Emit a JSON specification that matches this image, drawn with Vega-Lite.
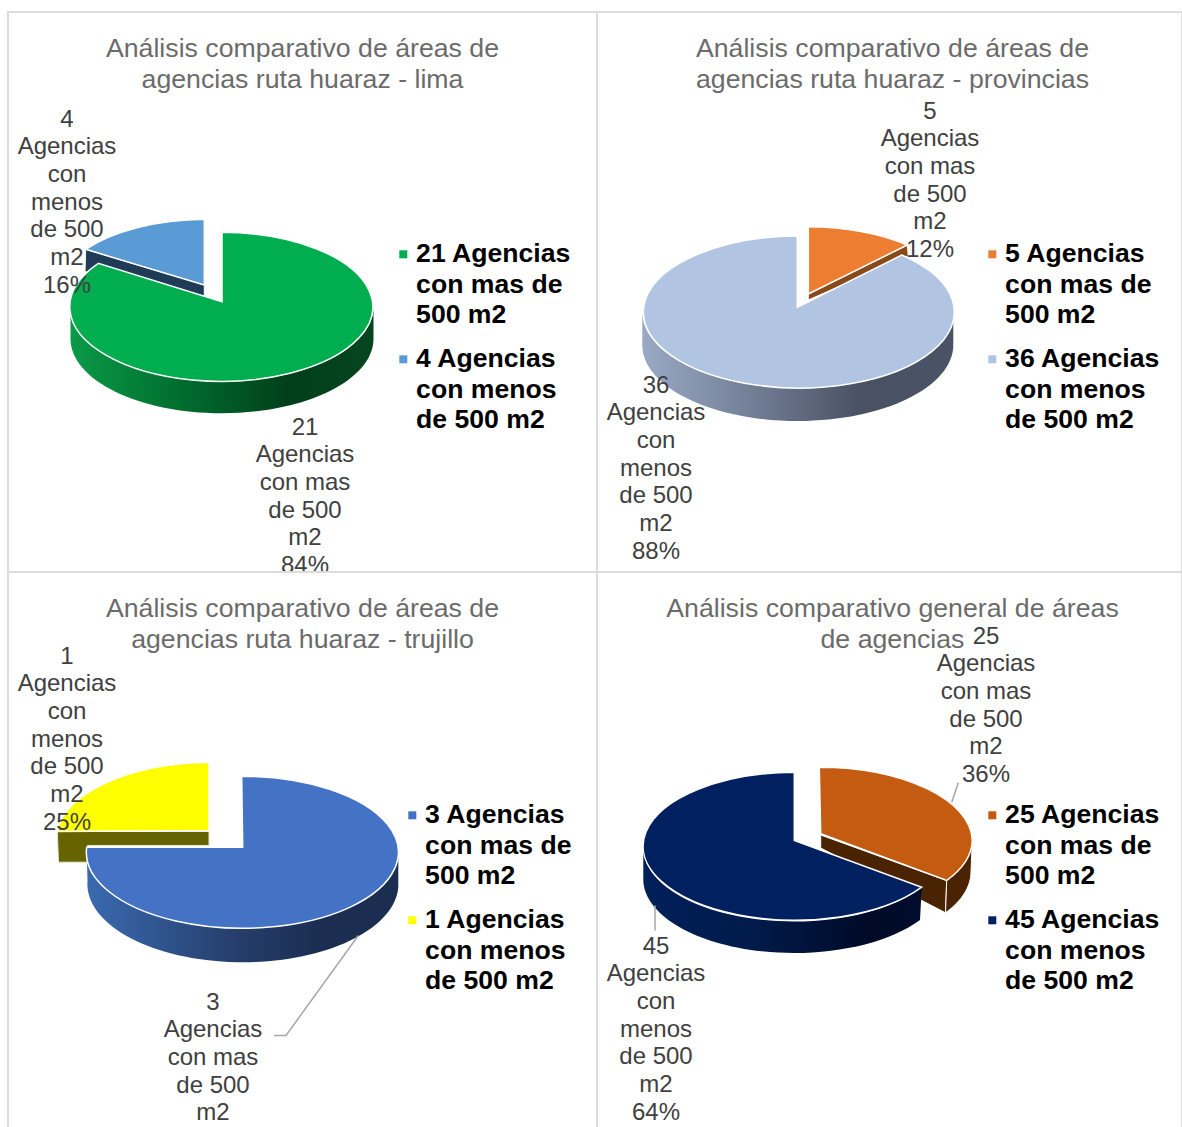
{"$schema":"https://vega.github.io/schema/vega-lite/v6.json","padding":{"left":7,"top":11,"right":0,"bottom":0},"background":"white","columns":2,"spacing":0,"bounds":"flush","resolve":{"scale":{"fill":"independent","shape":"independent","x":"independent","y":"independent"},"legend":{"fill":"independent"}},"config":{"view":{"stroke":"#dcdcdc","strokeWidth":2},"title":{"font":"Liberation Sans","fontSize":26.7,"fontWeight":"normal","color":"#6b6b6b","lineHeight":31,"anchor":"middle","offset":-82},"legend":{"orient":"none","title":null,"padding":0,"symbolType":"square","symbolSize":64,"symbolStrokeWidth":0,"labelFont":"Liberation Sans","labelFontSize":26.6,"labelFontWeight":"bold","labelColor":"#000000","labelOffset":-0.5,"labelLimit":300,"labelBaseline":"top","rowPadding":17},"text":{"font":"Liberation Sans","fontSize":24,"lineHeight":27.7,"color":"#404040","lineBreak":"\n","baseline":"top","align":"center","clip":true},"point":{"size":4,"opacity":1,"filled":true}},"data":{"values":[{"grafico":"lima","serie":"4 Agencias con menos de 500 m2","agencias":4,"porcentaje":16,"etiqueta":"4\nAgencias\ncon\nmenos\nde 500\nm2\n16%"},{"grafico":"lima","serie":"21 Agencias con mas de 500 m2","agencias":21,"porcentaje":84,"etiqueta":"21\nAgencias\ncon mas\nde 500\nm2\n84%"},{"grafico":"provincias","serie":"5 Agencias con mas de 500 m2","agencias":5,"porcentaje":12,"etiqueta":"5\nAgencias\ncon mas\nde 500\nm2\n12%"},{"grafico":"provincias","serie":"36 Agencias con menos de 500 m2","agencias":36,"porcentaje":88,"etiqueta":"36\nAgencias\ncon\nmenos\nde 500\nm2\n88%"},{"grafico":"trujillo","serie":"1 Agencias con menos de 500 m2","agencias":1,"porcentaje":25,"etiqueta":"1\nAgencias\ncon\nmenos\nde 500\nm2\n25%"},{"grafico":"trujillo","serie":"3 Agencias con mas de 500 m2","agencias":3,"porcentaje":75,"etiqueta":"3\nAgencias\ncon mas\nde 500\nm2\n75%"},{"grafico":"general","serie":"25 Agencias con mas de 500 m2","agencias":25,"porcentaje":36,"etiqueta":"25\nAgencias\ncon mas\nde 500\nm2\n36%"},{"grafico":"general","serie":"45 Agencias con menos de 500 m2","agencias":45,"porcentaje":64,"etiqueta":"45\nAgencias\ncon\nmenos\nde 500\nm2\n64%"}]},"concat":[
{"width":589,"height":560,"title":{"text":["Análisis comparativo de áreas de","agencias ruta huaraz - lima"]},"transform":[{"filter":"datum.grafico==='lima'"}],"layer":[
{"transform":[{"filter":"datum.agencias===4"}],"mark":{"type":"point","shape":"M-98.2,-7 L-98.2,4 L-217.5,-20.3 L-216.8,-42.7 Z","fill":"#1f3b58","stroke":"#ffffff","strokeWidth":1}},
{"transform":[{"filter":"datum.agencias===21"}],"mark":{"type":"point","shape":"M-232,14.7 A151.5 74.5 0 0 0 71,14.7 L71,46.7 A151.5 74.5 0 0 1 -232,46.7 Z","fill":{"gradient":"linear","x1":0,"y1":0,"x2":1,"y2":0,"stops":[{"offset":0,"color":"#0a9a47"},{"offset":0.35,"color":"#006f30"},{"offset":0.72,"color":"#003f1a"},{"offset":1,"color":"#05451f"}]}}},
{"mark":{"type":"point","stroke":"#ffffff","strokeWidth":1.5},"encoding":{"fill":{"field":"serie","type":"nominal","scale":{"domain":["21 Agencias con mas de 500 m2","4 Agencias con menos de 500 m2"],"range":["#00ae4f","#5b9bd5"]},"legend":{"legendX":382,"legendY":229,"labelExpr":"split(replace(replace(replace(datum.label,' con ','|con '),' mas de ',' mas de|'),' menos ',' menos|'),'|')","encoding":{"labels":{"dy":{"value":-13},"lineHeight":{"value":30.5}}}}},"shape":{"field":"agencias","type":"nominal","scale":{"domain":[21,4],"range":["M-80.5,9.7 L-80.5,-59.7 A151.5 74.5 0 1 1 -204.2,-28.7 Z","M-98.2,-7 L-98.2,-72.7 A151.5 74.5 0 0 0 -216.8,-42.7 Z"]},"legend":null}}},
{"mark":{"type":"text"},"encoding":{"text":{"field":"etiqueta"},"x":{"field":"serie","type":"nominal","axis":null,"scale":{"domain":["4 Agencias con menos de 500 m2","21 Agencias con mas de 500 m2"],"range":[59,297],"padding":0}},"y":{"field":"serie","type":"nominal","axis":null,"scale":{"domain":["4 Agencias con menos de 500 m2","21 Agencias con mas de 500 m2"],"range":[95.6,403.6],"padding":0}}}}
]},
{"width":585,"height":560,"title":{"text":["Análisis comparativo de áreas de","agencias ruta huaraz - provincias"],"dx":3},"transform":[{"filter":"datum.grafico==='provincias'"}],"layer":[
{"transform":[{"filter":"datum.agencias===5"}],"mark":{"type":"point","shape":"M-81.2,2 L-81.2,8 L18.8,-36 L17.8,-47 Z","fill":"#8a4a17","stroke":"#ffffff","strokeWidth":1}},
{"transform":[{"filter":"datum.agencias===36"}],"mark":{"type":"point","shape":"M-247.2,20 A155.5 76 0 0 0 63.8,20 L63.8,53 A155.5 76 0 0 1 -247.2,53 Z","fill":{"gradient":"linear","x1":0,"y1":0,"x2":1,"y2":0,"stops":[{"offset":0,"color":"#9aa9c4"},{"offset":0.35,"color":"#727f96"},{"offset":0.7,"color":"#495163"},{"offset":1,"color":"#4a5366"}]}}},
{"mark":{"type":"point","stroke":"#ffffff","strokeWidth":1.5},"encoding":{"fill":{"field":"serie","type":"nominal","scale":{"domain":["5 Agencias con mas de 500 m2","36 Agencias con menos de 500 m2"],"range":["#ed7d31","#b1c4e2"]},"legend":{"legendX":382,"legendY":229,"labelExpr":"split(replace(replace(replace(datum.label,' con ','|con '),' mas de ',' mas de|'),' menos ',' menos|'),'|')","encoding":{"labels":{"dy":{"value":-13},"lineHeight":{"value":30.5}}}}},"shape":{"field":"agencias","type":"nominal","scale":{"domain":[5,36],"range":["M-81.2,2 L-81.2,-65.3 A155 76 0 0 1 17.8,-47 Z","M-92.2,15.3 L12.2,-37 A155.5 76 0 1 1 -92.2,-56 Z"]},"legend":null}}},
{"mark":{"type":"text"},"encoding":{"text":{"field":"etiqueta"},"x":{"field":"serie","type":"nominal","axis":null,"scale":{"domain":["5 Agencias con mas de 500 m2","36 Agencias con menos de 500 m2"],"range":[333,59],"padding":0}},"y":{"field":"serie","type":"nominal","axis":null,"scale":{"domain":["5 Agencias con mas de 500 m2","36 Agencias con menos de 500 m2"],"range":[87.6,361.6],"padding":0}}}}
]},
{"width":589,"height":556,"title":{"text":["Análisis comparativo de áreas de","agencias ruta huaraz - trujillo"]},"transform":[{"filter":"datum.grafico==='trujillo'"}],"layer":[
{"transform":[{"filter":"datum.agencias===1"}],"mark":{"type":"point","shape":"M-245.2,-18.5 L-93.5,-18.5 L-93.5,-4.5 L-215,-4.5 L-215,12.2 L-244,12.2 Z","fill":"#666400","stroke":"#e8e8d0","strokeWidth":1}},
{"transform":[{"filter":"datum.agencias===3"}],"mark":{"type":"point","shape":"M-215.8,-2.8 A155 76 0 0 0 95.8,3.8 L95.8,37 A155 78 0 0 1 -215,31 Z","fill":{"gradient":"linear","x1":0,"y1":0,"x2":1,"y2":0,"stops":[{"offset":0,"color":"#3a6ab0"},{"offset":0.45,"color":"#27406f"},{"offset":0.75,"color":"#1b2d50"},{"offset":1,"color":"#1b2d50"}]}}},
{"transform":[{"filter":"datum.agencias===3"}],"mark":{"type":"point","shape":"M55.8,85.5 L-16.5,185.5 L-28.5,185.5","filled":false,"stroke":"#a6a6a6","strokeWidth":1.5}},
{"mark":{"type":"point","stroke":"#ffffff","strokeWidth":1.5},"encoding":{"fill":{"field":"serie","type":"nominal","scale":{"domain":["3 Agencias con mas de 500 m2","1 Agencias con menos de 500 m2"],"range":["#4472c4","#ffff00"]},"legend":{"legendX":391,"legendY":230,"labelExpr":"split(replace(replace(replace(datum.label,' con ','|con '),' mas de ',' mas de|'),' menos ',' menos|'),'|')","encoding":{"labels":{"dy":{"value":-13},"lineHeight":{"value":30.5}}}}},"shape":{"field":"agencias","type":"nominal","scale":{"domain":[3,1],"range":["M-59.8,-2.8 L-60.8,-73.8 A156 76 0 1 1 -215.8,-2.8 Z","M-93.5,-19.5 L-93.5,-87.8 A156 76 0 0 0 -245.2,-18.5 Z"]},"legend":null}}},
{"mark":{"type":"text"},"encoding":{"text":{"field":"etiqueta"},"x":{"field":"serie","type":"nominal","axis":null,"scale":{"domain":["1 Agencias con menos de 500 m2","3 Agencias con mas de 500 m2"],"range":[59,205],"padding":0}},"y":{"field":"serie","type":"nominal","axis":null,"scale":{"domain":["1 Agencias con menos de 500 m2","3 Agencias con mas de 500 m2"],"range":[72.6,418.6],"padding":0}}}}
]},
{"width":585,"height":556,"title":{"text":["Análisis comparativo general de áreas","de agencias"],"dx":3},"transform":[{"filter":"datum.grafico==='general'"}],"layer":[
{"transform":[{"filter":"datum.agencias===25"}],"mark":{"type":"point","shape":"M-68.8,-15 L57.2,30.5 L56,62.8 L-68.8,-2 Z","fill":"#4a2303","stroke":"#ffffff","strokeWidth":1}},
{"transform":[{"filter":"datum.agencias===25"}],"mark":{"type":"point","shape":"M57.2,30.5 L82.8,-9.5 L81.5,22 A153 74 0 0 1 56,62.8 Z","fill":"#4a2303","stroke":"#ffffff","strokeWidth":1}},
{"transform":[{"filter":"datum.agencias===45"}],"mark":{"type":"point","shape":"M-246.2,-4.5 A151 74 0 0 0 32.2,37.2 L30.5,70 A151 74 0 0 1 -246.2,27.5 Z","fill":{"gradient":"linear","x1":0,"y1":0,"x2":1,"y2":0,"stops":[{"offset":0,"color":"#00205a"},{"offset":0.4,"color":"#001a4a"},{"offset":0.8,"color":"#000a28"},{"offset":1,"color":"#000c2c"}]}}},
{"transform":[{"filter":"datum.agencias===25"}],"mark":{"type":"point","shape":"M68.8,-67.2 L62.2,-47.8","filled":false,"stroke":"#a6a6a6","strokeWidth":1.5}},
{"transform":[{"filter":"datum.agencias===45"}],"mark":{"type":"point","shape":"M-234.5,55.5 L-234.5,80.5","filled":false,"stroke":"#a6a6a6","strokeWidth":1.5}},
{"mark":{"type":"point","stroke":"#ffffff","strokeWidth":1.5},"encoding":{"fill":{"field":"serie","type":"nominal","scale":{"domain":["25 Agencias con mas de 500 m2","45 Agencias con menos de 500 m2"],"range":["#c55a11","#002060"]},"legend":{"legendX":382,"legendY":230,"labelExpr":"split(replace(replace(replace(datum.label,' con ','|con '),' mas de ',' mas de|'),' menos ',' menos|'),'|')","encoding":{"labels":{"dy":{"value":-13},"lineHeight":{"value":30.5}}}}},"shape":{"field":"agencias","type":"nominal","scale":{"domain":[25,45],"range":["M-68.8,-16.2 L-70.2,-82.8 A153 74 0 0 1 82.8,-9.5 A153 74 0 0 1 57.2,30.5 Z","M-95.2,-9.5 L-95.2,-77.8 A152 74 0 1 0 32.2,37.2 Z"]},"legend":null}}},
{"mark":{"type":"text"},"encoding":{"text":{"field":"etiqueta"},"x":{"field":"serie","type":"nominal","axis":null,"scale":{"domain":["25 Agencias con mas de 500 m2","45 Agencias con menos de 500 m2"],"range":[389,59],"padding":0}},"y":{"field":"serie","type":"nominal","axis":null,"scale":{"domain":["25 Agencias con mas de 500 m2","45 Agencias con menos de 500 m2"],"range":[52.6,362.6],"padding":0}}}}
]}
]}
